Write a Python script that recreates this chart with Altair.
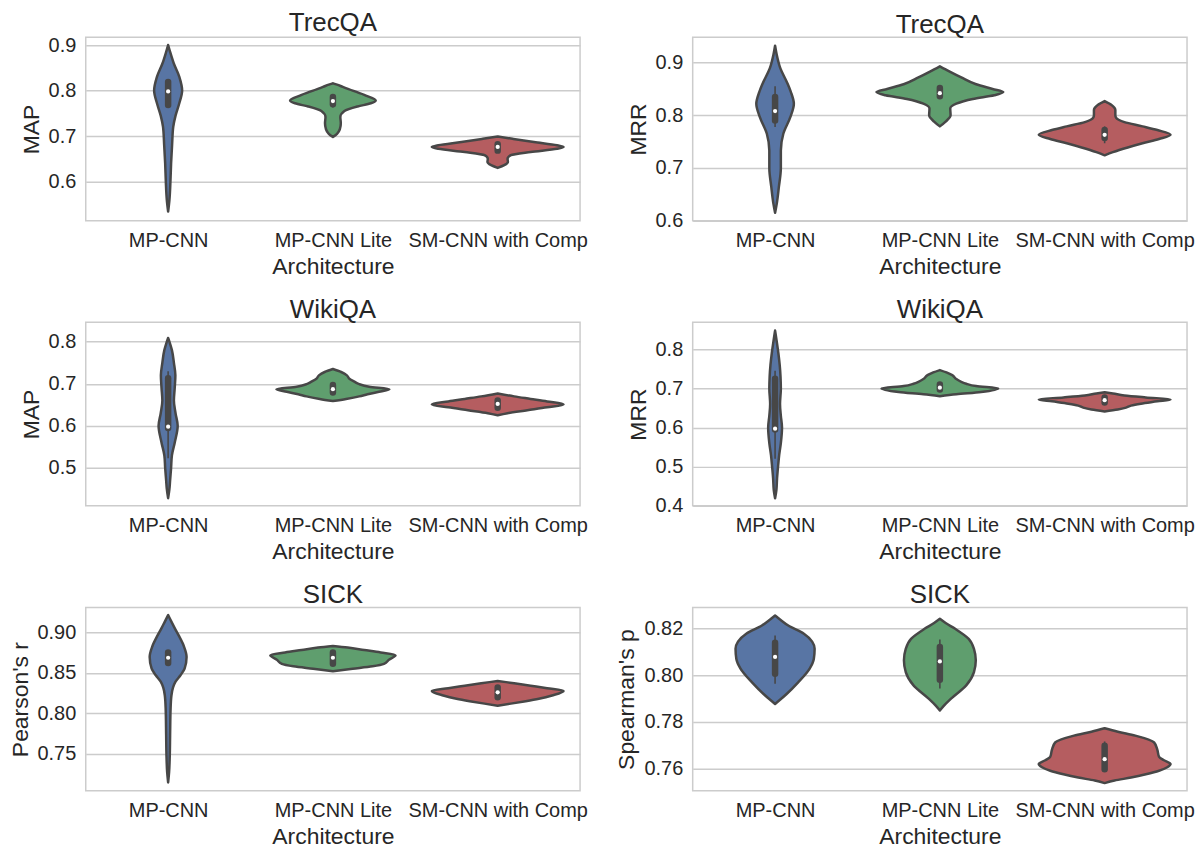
import altair as alt
import pandas as pd

CATS = ["MP-CNN", "MP-CNN Lite", "SM-CNN with Comp"]
COLORS = ["#5875A4", "#5F9E6E", "#B55D60"]
OUTLINE = "#474747"
TEXT = "#262626"
FONT = "Liberation Sans"

# ---- violin outlines: (value, half-width in category units) ----
TREC_MAP_MP = [(0.534, 0), (0.56, 0.008), (0.60, 0.014), (0.64, 0.018), (0.68, 0.024), (0.72, 0.031),
               (0.745, 0.045), (0.77, 0.066), (0.80, 0.085), (0.83, 0.068), (0.86, 0.034), (0.885, 0.012), (0.900, 0)]
TREC_MAP_LITE = [(0.698, 0), (0.705, 0.025), (0.715, 0.042), (0.728, 0.048), (0.742, 0.045), (0.755, 0.07),
                 (0.765, 0.15), (0.772, 0.23), (0.778, 0.26), (0.789, 0.20), (0.80, 0.12), (0.808, 0.06),
                 (0.813, 0.025), (0.816, 0)]
TREC_MAP_SM = [(0.630, 0), (0.636, 0.04), (0.643, 0.062), (0.650, 0.06), (0.658, 0.08), (0.665, 0.2),
               (0.672, 0.36), (0.676, 0.40), (0.680, 0.36), (0.687, 0.22), (0.694, 0.09), (0.699, 0)]

TREC_MRR_MP = [(0.615, 0), (0.632, 0.01), (0.664, 0.023), (0.70, 0.035), (0.733, 0.035), (0.765, 0.05),
               (0.797, 0.093), (0.822, 0.114), (0.845, 0.095), (0.86, 0.076), (0.891, 0.03), (0.915, 0.01), (0.932, 0)]
TREC_MRR_LITE = [(0.779, 0), (0.788, 0.035), (0.80, 0.065), (0.813, 0.063), (0.822, 0.10), (0.831, 0.2),
                 (0.838, 0.33), (0.844, 0.385), (0.850, 0.32), (0.859, 0.22), (0.872, 0.13), (0.883, 0.06), (0.893, 0)]
TREC_MRR_SM = [(0.724, 0), (0.73, 0.05), (0.739, 0.14), (0.747, 0.23), (0.755, 0.33), (0.763, 0.40),
               (0.772, 0.32), (0.779, 0.23), (0.787, 0.12), (0.795, 0.07), (0.80, 0.065), (0.81, 0.065),
               (0.82, 0.04), (0.827, 0)]

WIKI_MAP_MP = [(0.428, 0), (0.45, 0.008), (0.47, 0.012), (0.50, 0.018), (0.53, 0.023), (0.56, 0.04),
               (0.60, 0.058), (0.63, 0.045), (0.66, 0.035), (0.69, 0.04), (0.72, 0.044), (0.75, 0.035),
               (0.78, 0.023), (0.795, 0.012), (0.809, 0)]
WIKI_MAP_LITE = [(0.659, 0), (0.664, 0.08), (0.670, 0.16), (0.675, 0.21), (0.681, 0.28), (0.687, 0.343),
                 (0.693, 0.22), (0.699, 0.16), (0.705, 0.13), (0.712, 0.1), (0.72, 0.085), (0.728, 0.05), (0.735, 0)]
WIKI_MAP_SM = [(0.625, 0), (0.63, 0.06), (0.637, 0.18), (0.644, 0.3), (0.651, 0.40), (0.658, 0.3),
               (0.664, 0.2), (0.67, 0.1), (0.677, 0)]

WIKI_MRR_MP = [(0.419, 0), (0.44, 0.008), (0.47, 0.012), (0.50, 0.018), (0.53, 0.025), (0.56, 0.035),
               (0.60, 0.042), (0.63, 0.035), (0.66, 0.03), (0.70, 0.035), (0.73, 0.033), (0.76, 0.028),
               (0.79, 0.02), (0.82, 0.01), (0.848, 0)]
WIKI_MRR_LITE = [(0.680, 0), (0.685, 0.1), (0.691, 0.25), (0.70, 0.354), (0.706, 0.22), (0.712, 0.16),
                 (0.717, 0.13), (0.724, 0.1), (0.734, 0.075), (0.741, 0.04), (0.747, 0)]
WIKI_MRR_SM = [(0.641, 0), (0.646, 0.08), (0.651, 0.13), (0.656, 0.16), (0.661, 0.22), (0.667, 0.32),
               (0.672, 0.40), (0.677, 0.25), (0.682, 0.12), (0.687, 0.05), (0.69, 0)]

SICK_P_MP = [(0.715, 0), (0.728, 0.006), (0.748, 0.01), (0.773, 0.012), (0.806, 0.015), (0.822, 0.02),
             (0.832, 0.03), (0.839, 0.045), (0.847, 0.075), (0.855, 0.1), (0.8695, 0.112), (0.883, 0.095),
             (0.896, 0.064), (0.905, 0.04), (0.913, 0.02), (0.921, 0)]
SICK_P_LITE = [(0.852, 0), (0.855, 0.12), (0.858, 0.24), (0.861, 0.31), (0.866, 0.34), (0.8715, 0.38),
               (0.875, 0.29), (0.878, 0.19), (0.881, 0.09), (0.883, 0)]
SICK_P_SM = [(0.8095, 0), (0.812, 0.08), (0.815, 0.17), (0.818, 0.25), (0.822, 0.33), (0.8276, 0.40),
             (0.831, 0.3), (0.834, 0.2), (0.837, 0.1), (0.84, 0)]

SICK_S_MP = [(0.7877, 0), (0.7895, 0.03), (0.792, 0.07), (0.797, 0.14), (0.8029, 0.21), (0.807, 0.235),
             (0.8114, 0.24), (0.8145, 0.225), (0.8179, 0.175), (0.8214, 0.08), (0.824, 0.03), (0.8257, 0)]
SICK_S_LITE = [(0.7849, 0), (0.787, 0.025), (0.79, 0.068), (0.7957, 0.16), (0.8014, 0.207), (0.8065, 0.218),
               (0.8114, 0.207), (0.8157, 0.175), (0.82, 0.093), (0.8225, 0.035), (0.8243, 0)]
SICK_S_SM = [(0.7537, 0), (0.7548, 0.06), (0.7561, 0.16), (0.7575, 0.25), (0.759, 0.33), (0.7605, 0.38),
             (0.7619, 0.40), (0.7635, 0.36), (0.765, 0.33), (0.768, 0.32), (0.7712, 0.30), (0.7741, 0.186),
             (0.7758, 0.08), (0.7773, 0)]

# ---- inner box statistics per panel (MP-CNN, MP-CNN Lite, SM-CNN with Comp) ----
TREC_MAP_Q1, TREC_MAP_Q3, TREC_MAP_MED = [0.768, 0.770, 0.668], [0.819, 0.786, 0.682], [0.798, 0.777, 0.676]
TREC_MAP_LO, TREC_MAP_HI = [0.762, 0.763, 0.664], [0.824, 0.790, 0.687]
TREC_MRR_Q1, TREC_MRR_Q3, TREC_MRR_MED = [0.790, 0.836, 0.757], [0.835, 0.852, 0.772], [0.808, 0.842, 0.763]
TREC_MRR_LO, TREC_MRR_HI = [0.778, 0.832, 0.747], [0.855, 0.856, 0.779]
WIKI_MAP_Q1, WIKI_MAP_Q3, WIKI_MAP_MED = [0.595, 0.679, 0.643], [0.713, 0.697, 0.660], [0.598, 0.687, 0.652]
WIKI_MAP_LO, WIKI_MAP_HI = [0.523, 0.675, 0.639], [0.730, 0.700, 0.664]
WIKI_MRR_Q1, WIKI_MRR_Q3, WIKI_MRR_MED = [0.595, 0.697, 0.664], [0.725, 0.710, 0.677], [0.597, 0.702, 0.670]
WIKI_MRR_LO, WIKI_MRR_HI = [0.520, 0.693, 0.660], [0.745, 0.712, 0.680]
SICK_P_Q1, SICK_P_Q3, SICK_P_MED = [0.862, 0.861, 0.820], [0.875, 0.875, 0.832], [0.8685, 0.8685, 0.826]
SICK_P_LO, SICK_P_HI = [0.860, 0.859, 0.818], [0.878, 0.877, 0.834]
SICK_S_Q1, SICK_S_Q3, SICK_S_MED = [0.8007, 0.7981, 0.7597], [0.8140, 0.8122, 0.7698], [0.8079, 0.8060, 0.7640]
SICK_S_LO, SICK_S_HI = [0.7964, 0.7943, 0.7590], [0.8171, 0.8154, 0.7716]

# ---- axes per panel ----
TREC_MAP_DOMAIN, TREC_MAP_TICKS = [0.514, 0.917], [0.6, 0.7, 0.8, 0.9]
TREC_MRR_DOMAIN, TREC_MRR_TICKS = [0.6, 0.948], [0.6, 0.7, 0.8, 0.9]
WIKI_MAP_DOMAIN, WIKI_MAP_TICKS = [0.41, 0.846], [0.5, 0.6, 0.7, 0.8]
WIKI_MRR_DOMAIN, WIKI_MRR_TICKS = [0.4, 0.869], [0.4, 0.5, 0.6, 0.7, 0.8]
SICK_P_DOMAIN, SICK_P_TICKS = [0.7047, 0.9305], [0.75, 0.80, 0.85, 0.90]
SICK_S_DOMAIN, SICK_S_TICKS = [0.7504, 0.8292], [0.76, 0.78, 0.80, 0.82]

W, H = 496, 184


def panel(title, ytitle, outlines, q1, q3, med, lo, hi, domain, ticks, fmt):
    rows = []
    for ci, pts in enumerate(outlines):
        for v, w in pts:
            rows.append({"cat": CATS[ci], "c": ci, "v": v, "w": w})
    vdf = pd.DataFrame(rows)
    bdf = pd.DataFrame({"cat": CATS, "c": [0, 1, 2], "q1": q1, "q3": q3,
                        "med": med, "lo": lo, "hi": hi})
    xscale = alt.Scale(domain=[-0.5, 2.5], nice=False, zero=False)
    yscale = alt.Scale(domain=domain, nice=False, zero=False)
    xaxis = alt.Axis(values=[0, 1, 2], grid=False, title="Architecture", labelLimit=0,
                     labelExpr="datum.value == 0 ? 'MP-CNN' : (datum.value == 1 ? 'MP-CNN Lite' : 'SM-CNN with Comp')")
    yaxis = alt.Axis(values=ticks, format=fmt, title=ytitle, grid=True)

    violin = alt.Chart(vdf).transform_calculate(
        xa="datum.c - datum.w", xb="datum.c + datum.w"
    ).mark_area(orient="horizontal", interpolate="monotone", stroke=OUTLINE,
                strokeWidth=2.5, opacity=1, strokeJoin="round").encode(
        y=alt.Y("v:Q", scale=yscale, axis=yaxis),
        x=alt.X("xa:Q", scale=xscale, axis=xaxis),
        x2="xb:Q",
        color=alt.Color("cat:N", scale=alt.Scale(domain=CATS, range=COLORS), legend=None),
    )
    whisker = alt.Chart(bdf).mark_rule(color=OUTLINE, strokeWidth=1.6).encode(
        x=alt.X("c:Q", scale=xscale, axis=xaxis),
        y=alt.Y("lo:Q", scale=yscale, axis=yaxis),
        y2="hi:Q",
    )
    box = alt.Chart(bdf).mark_rule(color=OUTLINE, strokeWidth=6.5, strokeCap="round").encode(
        x=alt.X("c:Q", scale=xscale, axis=xaxis),
        y=alt.Y("q1:Q", scale=yscale, axis=yaxis),
        y2="q3:Q",
    )
    median = alt.Chart(bdf).mark_point(filled=True, color="white", size=18, opacity=1).encode(
        x=alt.X("c:Q", scale=xscale, axis=xaxis),
        y=alt.Y("med:Q", scale=yscale, axis=yaxis),
    )
    return alt.layer(violin, whisker, box, median).properties(
        width=W, height=H, title=alt.TitleParams(title, fontSize=26, offset=-1)
    )


p1 = panel("TrecQA", "MAP", [TREC_MAP_MP, TREC_MAP_LITE, TREC_MAP_SM], TREC_MAP_Q1, TREC_MAP_Q3,
           TREC_MAP_MED, TREC_MAP_LO, TREC_MAP_HI, TREC_MAP_DOMAIN, TREC_MAP_TICKS, ".1f")
p2 = panel("TrecQA", "MRR", [TREC_MRR_MP, TREC_MRR_LITE, TREC_MRR_SM], TREC_MRR_Q1, TREC_MRR_Q3,
           TREC_MRR_MED, TREC_MRR_LO, TREC_MRR_HI, TREC_MRR_DOMAIN, TREC_MRR_TICKS, ".1f")
p3 = panel("WikiQA", "MAP", [WIKI_MAP_MP, WIKI_MAP_LITE, WIKI_MAP_SM], WIKI_MAP_Q1, WIKI_MAP_Q3,
           WIKI_MAP_MED, WIKI_MAP_LO, WIKI_MAP_HI, WIKI_MAP_DOMAIN, WIKI_MAP_TICKS, ".1f")
p4 = panel("WikiQA", "MRR", [WIKI_MRR_MP, WIKI_MRR_LITE, WIKI_MRR_SM], WIKI_MRR_Q1, WIKI_MRR_Q3,
           WIKI_MRR_MED, WIKI_MRR_LO, WIKI_MRR_HI, WIKI_MRR_DOMAIN, WIKI_MRR_TICKS, ".1f")
p5 = panel("SICK", "Pearson's r", [SICK_P_MP, SICK_P_LITE, SICK_P_SM], SICK_P_Q1, SICK_P_Q3,
           SICK_P_MED, SICK_P_LO, SICK_P_HI, SICK_P_DOMAIN, SICK_P_TICKS, ".2f")
p6 = panel("SICK", "Spearman's p", [SICK_S_MP, SICK_S_LITE, SICK_S_SM], SICK_S_Q1, SICK_S_Q3,
           SICK_S_MED, SICK_S_LO, SICK_S_HI, SICK_S_DOMAIN, SICK_S_TICKS, ".2f")

chart = alt.concat(
    p1, p2, p3, p4, p5, p6, columns=2, spacing={"row": 102, "column": 113}, bounds="flush"
).resolve_scale(
    x="independent", y="independent"
).properties(
    padding=0, background="white"
).configure_view(
    stroke="#cccccc", strokeWidth=1.5
).configure_axis(
    domain=False, ticks=False, labelFont=FONT, labelFontSize=20, labelColor=TEXT,
    titleFont=FONT, titleFontSize=23, titleColor=TEXT, titleFontWeight="normal",
    gridColor="#cccccc", gridWidth=1.5, labelPadding=10, titlePadding=5
).configure_title(
    font=FONT, color=TEXT, fontWeight="normal"
)

chart.save("out.html", embed_options={"renderer": "svg", "actions": False})
